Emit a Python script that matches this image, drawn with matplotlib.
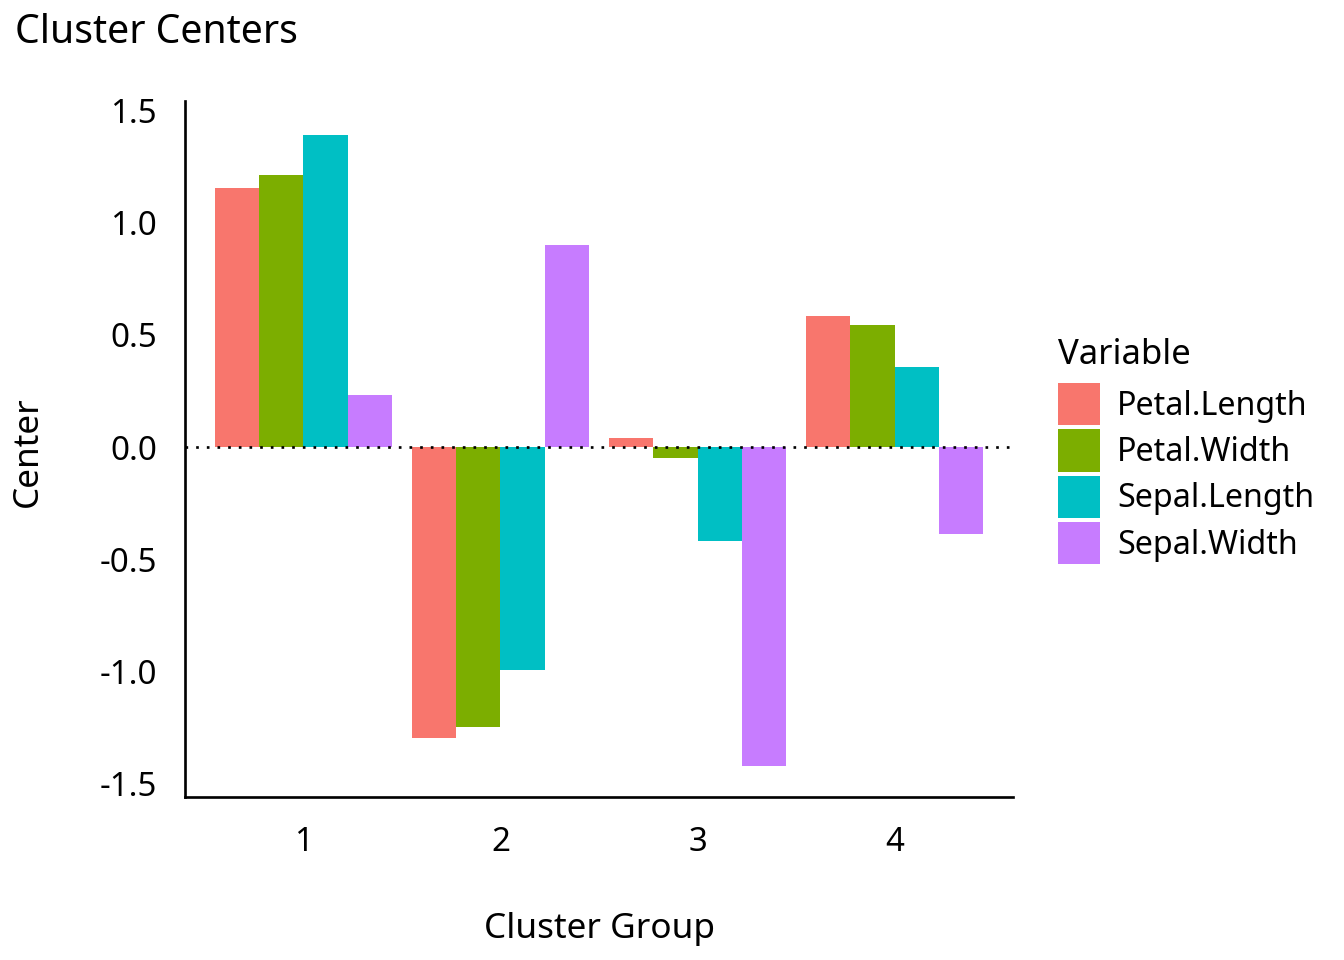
import matplotlib
matplotlib.use("Agg")
import matplotlib.pyplot as plt
import matplotlib.patches as mpatches
import numpy as np

plt.rcParams['font.family'] = ['Noto Sans', 'DejaVu Sans']

clusters = ["1", "2", "3", "4"]
variables = ["Petal.Length", "Petal.Width", "Sepal.Length", "Sepal.Width"]
colors = ["#F8766D", "#7CAE00", "#00BFC4", "#C77CFF"]
petal_length = [1.155, -1.297, 0.040, 0.584]
petal_width = [1.213, -1.248, -0.049, 0.544]
sepal_length = [1.391, -0.994, -0.419, 0.357]
sepal_width = [0.232, 0.901, -1.422, -0.388]
series = [petal_length, petal_width, sepal_length, sepal_width]
yticks = [-1.5, -1.0, -0.5, 0.0, 0.5, 1.0, 1.5]

fig = plt.figure(figsize=(7, 5), dpi=192)
ax = fig.add_axes([185/1344, 1 - 797/960, (1013-185)/1344, (797-101)/960])

x = np.arange(1, len(clusters) + 1)
w = 0.9 / len(variables)
for i, (vals, c) in enumerate(zip(series, colors)):
    ax.bar(x - 0.45 + w * (i + 0.5), vals, width=w, color=c, linewidth=0, zorder=2)

ax.axhline(0, color="black", linestyle=(0, (1, 3)), linewidth=1.0, zorder=3)

ax.set_xlim(0.4, 4.6)
ax.set_ylim(-1.56, 1.543)
ax.set_xticks(x)
ax.set_xticklabels(clusters)
ax.set_yticks(yticks)
ax.set_yticklabels([f"{v:.1f}" for v in yticks])
ax.tick_params(axis="both", length=0, labelsize=12.4, colors="black")
ax.tick_params(axis="y", pad=10.5)
ax.tick_params(axis="x", pad=11)
for s in ["top", "right"]:
    ax.spines[s].set_visible(False)
for s in ["left", "bottom"]:
    ax.spines[s].set_linewidth(1.0)

fig.text(599/1344, 1 - 929/960, "Cluster Group", ha="center", va="center", fontsize=13.2)
fig.text(28/1344, 1 - 452/960, "Center", ha="center", va="center", rotation=90, fontsize=13.2)
fig.text(15/1344, 1 - 33/960, "Cluster Centers", ha="left", va="center", fontsize=14.7)

handles = [mpatches.Patch(facecolor=c, edgecolor="none", label=v) for c, v in zip(colors, variables)]
leg = fig.legend(handles=handles, title="Variable", loc="upper left",
                 bbox_to_anchor=(1058/1344, 1 - 338/960), frameon=False,
                 fontsize=12.1, title_fontsize=13, handlelength=1.3, handleheight=1.64,
                 labelspacing=0.125, handletextpad=0.53, borderaxespad=0, borderpad=0)
leg._legend_box.align = "left"
leg._legend_box.sep = 4.1

fig.savefig("out.png", dpi=192, facecolor="white")
